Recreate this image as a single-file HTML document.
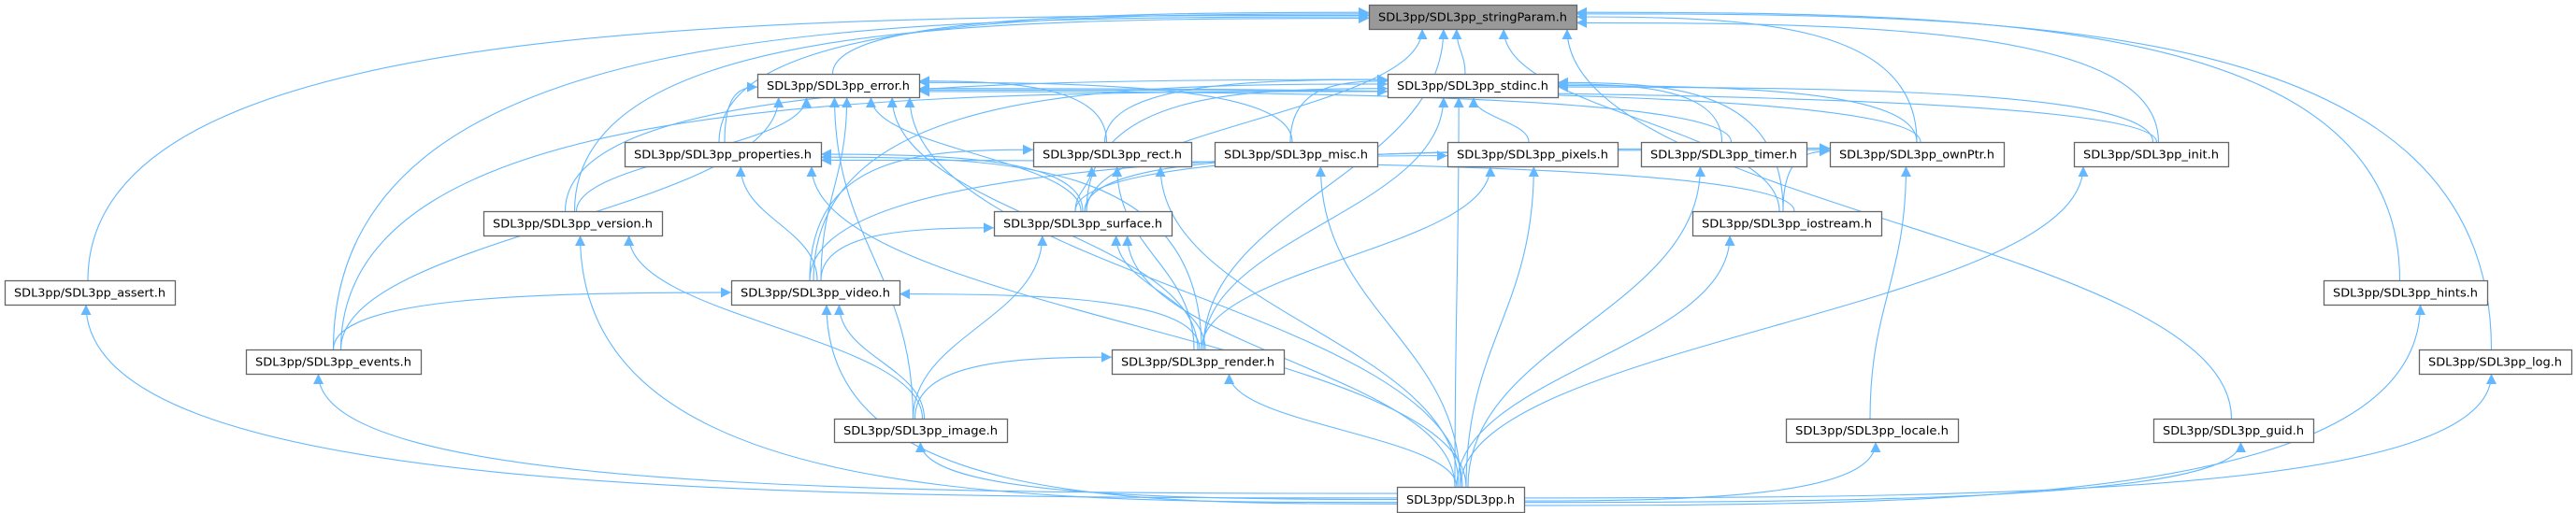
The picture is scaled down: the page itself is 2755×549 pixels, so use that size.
<!DOCTYPE html>
<html><head><meta charset="utf-8"><style>
html,body{margin:0;padding:0;background:#fff;}
svg{display:block;}
</style></head><body>
<svg id="g" xmlns="http://www.w3.org/2000/svg" width="2755" height="549" viewBox="0 0 2755 549">
<defs><marker id="a" viewBox="0 0 10 10" refX="10" refY="5" markerWidth="11" markerHeight="11" markerUnits="userSpaceOnUse" orient="auto"><path d="M0,0L10,5L0,10z" fill="#63b8ff"/></marker></defs>
<g id="edges" fill="none" stroke="#63b8ff" stroke-width="1.1"></g>
<g id="nodes" font-family="DejaVu Sans, Liberation Sans, sans-serif" font-size="12"></g>
</svg>
<script>
var N={
SP:[1464,5,1686,31,"SDL3pp/SDL3pp_stringParam.h",1],
ST:[1484,79,1666,104,"SDL3pp/SDL3pp_stdinc.h"],
ER:[810,79,983,104,"SDL3pp/SDL3pp_error.h"],
PR:[668,152,878,178,"SDL3pp/SDL3pp_properties.h"],
RE:[1105,152,1274,178,"SDL3pp/SDL3pp_rect.h"],
MI:[1299,152,1473,178,"SDL3pp/SDL3pp_misc.h"],
PI:[1548,152,1730,178,"SDL3pp/SDL3pp_pixels.h"],
TI:[1755,152,1932,178,"SDL3pp/SDL3pp_timer.h"],
OW:[1957,152,2143,178,"SDL3pp/SDL3pp_ownPtr.h"],
IN:[2218,152,2383,178,"SDL3pp/SDL3pp_init.h"],
VE:[517,226,708,252,"SDL3pp/SDL3pp_version.h"],
SU:[1063,226,1253,252,"SDL3pp/SDL3pp_surface.h"],
IO:[1810,226,2012,252,"SDL3pp/SDL3pp_iostream.h"],
AS:[5,300,187,326,"SDL3pp/SDL3pp_assert.h"],
VI:[782,300,962,326,"SDL3pp/SDL3pp_video.h"],
HI:[2485,300,2660,326,"SDL3pp/SDL3pp_hints.h"],
EV:[263,374,450,400,"SDL3pp/SDL3pp_events.h"],
RN:[1189,374,1373,400,"SDL3pp/SDL3pp_render.h"],
LO:[2587,374,2750,400,"SDL3pp/SDL3pp_log.h"],
IM:[892,448,1077,473,"SDL3pp/SDL3pp_image.h"],
LC:[1910,448,2094,473,"SDL3pp/SDL3pp_locale.h"],
GU:[2303,448,2474,473,"SDL3pp/SDL3pp_guid.h"],
SD:[1494,521,1630,548,"SDL3pp/SDL3pp.h"]};
var E="ST SP,ER SP,PR SP,AS SP,EV SP,VE SP,SU SP,RN SP,IN SP,IO SP,HI SP,LO SP,GU SP,OW SP,PR ER,VE ER,VI ER,EV ER,IM ER,RE ER,MI ER,SU ER,RN ER,SD ER,OW ER,IN ER,TI ER,RE ST,MI ST,PI ST,TI ST,OW ST,IN ST,SU ST,RN ST,EV ST,VE ST,SD ST,IO ST,VI ST,SU PR,VI PR,RN PR,SD PR,IO PR,SU RE,VI RE,RN RE,SD RE,SD MI,SU PI,RN PI,SD PI,SD TI,SU OW,VI OW,IO OW,LC OW,SD IN,IM VE,SD VE,VI SU,RN SU,IM SU,SD SU,SD IO,SD AS,EV VI,RN VI,IM VI,SD VI,SD HI,SD EV,IM RN,SD RN,SD LO,SD IM,SD LC,SD GU".split(",");
var ns="http://www.w3.org/2000/svg",eg=document.getElementById("edges"),ng=document.getElementById("nodes");
function cx(n){return (n[0]+n[2])/2;}
function cl(v,a,b){return Math.max(a,Math.min(b,v));}
E.forEach(function(e,i){var p=e.split(" "),s=N[p[0]],t=N[p[1]];
 var sx=cx(s),tx=cx(t),d;
 var off=((i*37)%9-4)*4;
 if(s[1]>t[1]+10){
   var sy=s[1], ty=t[3], dy=sy-ty, dx=Math.abs(sx-tx);
   if(dx>2.5*dy && p[0]=="SD"){
     sx=tx<sx?s[0]:s[2]; sy=(s[1]+s[3])/2+off*0.4;
     tx=cl(tx+off,t[0]+10,t[2]-10);
     d="M"+sx+","+sy+" C"+(tx+(sx-tx)*0.5)+","+sy+" "+tx+","+(sy-5)+" "+tx+","+ty;
   } else if(dx>2.5*dy){
     sx=cl(sx+off*0.5,s[0]+10,s[2]-10); sy=s[1];
     ty=(t[1]+t[3])/2+off*0.4; tx=sx<tx?t[0]:t[2];
     d="M"+sx+","+sy+" C"+sx+","+(ty+5)+" "+(tx+(sx-tx)*0.5)+","+ty+" "+tx+","+ty;
   } else {
     sx=cl(sx+off*0.5,s[0]+10,s[2]-10);
     tx=cl(tx+off+(sx-tx)*0.15,t[0]+10,t[2]-10);
     d="M"+sx+","+sy+" C"+sx+","+(sy-dy*0.45)+" "+tx+","+(ty+dy*0.45)+" "+tx+","+ty;
   }
 } else {
   var y=(s[1]+s[3])/2, sx2=sx<tx?s[2]:s[0], tx2=sx<tx?t[0]:t[2];
   d="M"+sx2+","+y+" C"+(sx2+(tx2-sx2)*0.4)+","+(y-30)+" "+(sx2+(tx2-sx2)*0.6)+","+(y-30)+" "+tx2+","+(y-4);
 }
 var pa=document.createElementNS(ns,"path");pa.setAttribute("d",d);pa.setAttribute("marker-end","url(#a)");eg.appendChild(pa);
});
for(var k in N){var n=N[k];
 var r=document.createElementNS(ns,"rect");r.setAttribute("x",n[0]+0.5);r.setAttribute("y",n[1]+0.5);r.setAttribute("width",n[2]-n[0]);r.setAttribute("height",n[3]-n[1]);
 r.setAttribute("fill",n[5]?"#999999":"#ffffff");r.setAttribute("stroke","#666666");r.setAttribute("stroke-width","1.3");ng.appendChild(r);
 var t=document.createElementNS(ns,"text");t.setAttribute("x",cx(n));t.setAttribute("y",(n[1]+n[3])/2+4.5);t.setAttribute("text-anchor","middle");
 t.setAttribute("textLength",n[2]-n[0]-20);t.setAttribute("lengthAdjust","spacingAndGlyphs");t.textContent=n[4];ng.appendChild(t);}
</script>
</body></html>
